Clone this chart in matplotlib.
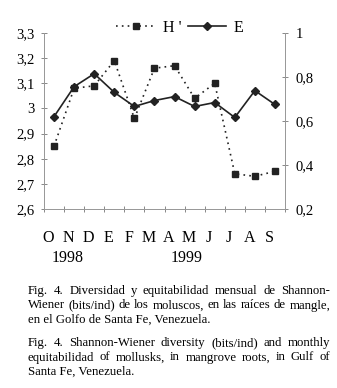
import matplotlib.pyplot as plt
import numpy as np
from matplotlib.lines import Line2D

months = ["O", "N", "D", "E", "F", "M", "A", "M", "J", "J", "A", "S"]
h_div = [2.85, 3.08, 3.09, 3.19, 2.96, 3.16, 3.17, 3.04, 3.10, 2.74, 2.73, 2.75]
e_equit = [0.62, 0.756, 0.815, 0.73, 0.666, 0.693, 0.711, 0.666, 0.684, 0.616, 0.738, 0.675]
left_ticks = [2.6, 2.7, 2.8, 2.9, 3.0, 3.1, 3.2, 3.3]
left_labels = ["2,6", "2,7", "2,8", "2,9", "3", "3,1", "3,2", "3,3"]
right_ticks = [0.2, 0.4, 0.6, 0.8, 1.0]
right_labels = ["0,2", "0,4", "0,6", "0,8", "1"]
years = ["1998", "1999"]

caption_es = ["Fig. 4. Diversidad y equitabilidad mensual de Shannon-",
              "Wiener (bits/ind) de los moluscos, en las raíces de mangle,",
              "en el Golfo de Santa Fe, Venezuela."]
caption_en = ["Fig. 4. Shannon-Wiener diversity (bits/ind) and monthly",
              "equitabilidad of mollusks, in  mangrove roots, in Gulf of",
              "Santa Fe, Venezuela."]

plt.rcParams['font.family'] = ['Liberation Serif', 'DejaVu Serif']

W, H = 337, 388
fig = plt.figure(figsize=(W / 100, H / 100), dpi=100)
ax = fig.add_axes([44 / W, 1 - 209 / H, 241 / W, 176 / H])
ax2 = ax.twinx()

x = np.arange(len(months)) + 0.5
ax.plot(x, h_div, ls=(0, (1, 2.5)), color='#222', lw=1.2,
        marker='s', ms=5, mfc='#222', mec='#222')
ax2.plot(x, e_equit, ls='-', color='#222', lw=1.2,
         marker='D', ms=4.5, mfc='#222', mec='#222')

ax.set_xlim(0, len(months))
ax.set_ylim(2.6, 3.3)
ax2.set_ylim(0.2, 1.0)

ax.set_yticks(left_ticks)
ax.set_yticklabels(left_labels, fontsize=10.5)
ax2.set_yticks(right_ticks)
ax2.set_yticklabels(right_labels, fontsize=10.5)

ax.set_xticks(np.arange(len(months) + 1))
ax.set_xticklabels([])
for i, m in enumerate(months):
    ax.text(i + 0.22, -0.165, m, transform=ax.get_xaxis_transform(),
            ha='center', va='center', fontsize=11.5)
for xi, yr in zip([1.2, 7.1], years):
    ax.text(xi, -0.28, yr, transform=ax.get_xaxis_transform(),
            ha='center', va='center', fontsize=11.5)

for a in (ax, ax2):
    a.spines['top'].set_visible(False)
    for s in ('left', 'right', 'bottom'):
        a.spines[s].set_color('#999')
        a.spines[s].set_linewidth(0.7)
    a.tick_params(direction='inout', length=5, width=0.7, color='#888', pad=3)
ax.tick_params(axis='y', pad=4)
ax2.tick_params(axis='y', pad=5)

handles = [Line2D([], [], ls=(0, (1, 2.5)), color='#222', lw=1.2, marker='s', ms=5),
           Line2D([], [], ls='-', color='#222', lw=1.2, marker='D', ms=4.5)]
fig.legend(handles, ["H '", "E"], loc='center', bbox_to_anchor=(180 / W, 1 - 28 / H),
           ncol=2, frameon=False, fontsize=11.5, handlelength=2.4,
           handletextpad=0.5, columnspacing=0.4)

renderer = fig.canvas.get_renderer()


def justified(line, y, x0=28, x1=330, just=True, size=9.2):
    # place words one by one so the line fills x0..x1 like the printed caption
    if not just:
        fig.text(x0 / W, 1 - y / H, line, fontsize=size, va='baseline', ha='left')
        return
    words = line.split()
    widths = []
    for w in words:
        t = fig.text(0, 0, w, fontsize=size)
        widths.append(t.get_window_extent(renderer).width)
        t.remove()
    gap = (x1 - x0 - sum(widths)) / (len(words) - 1)
    xp = x0
    for w, wd in zip(words, widths):
        fig.text(xp / W, 1 - y / H, w, fontsize=size, va='baseline', ha='left')
        xp += wd + gap


for k, line in enumerate(caption_es):
    justified(line, 294 + 14.5 * k, just=k < 2)
for k, line in enumerate(caption_en):
    justified(line, 346 + 14.5 * k, just=k < 2)

fig.savefig("out.png", dpi=100, facecolor='white')
